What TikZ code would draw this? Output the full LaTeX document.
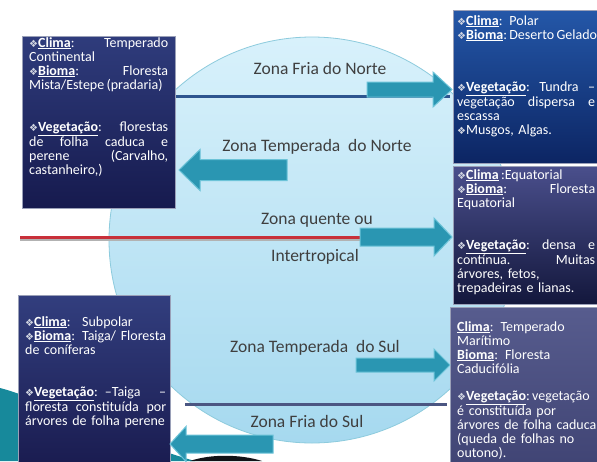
\documentclass[tikz,border=0pt]{standalone}
\usepackage{fontspec}
\setmainfont{Carlito}
\newfontfamily\dvfont{DejaVu Sans}
\usetikzlibrary{positioning}
\definecolor{tlTop}{HTML}{2F3C7C}
\definecolor{tlBot}{HTML}{161A4E}
\definecolor{trTop}{HTML}{2457A8}
\definecolor{trBot}{HTML}{0C2563}
\definecolor{mrTop}{HTML}{4A4F8C}
\definecolor{mrBot}{HTML}{13173C}
\definecolor{brTop}{HTML}{575C8E}
\definecolor{brBot}{HTML}{404474}
\definecolor{blTop}{HTML}{323E7E}
\definecolor{blBot}{HTML}{1A1C50}
\definecolor{globeTop}{HTML}{D8F1FB}
\definecolor{globeBot}{HTML}{A6D9EF}
\definecolor{globeEdge}{HTML}{8DCBDD}
\definecolor{arw}{HTML}{2A96B2}
\definecolor{arwedge}{HTML}{6CC3D8}
\definecolor{zonegrey}{HTML}{3F3F3F}
\definecolor{nblue}{HTML}{2D558F}
\definecolor{nred}{HTML}{C8303A}
\definecolor{sline}{HTML}{4B5682}
\definecolor{boxedge}{HTML}{9AA0B8}
\definecolor{swteal}{HTML}{17899B}
\definecolor{swdark}{HTML}{111318}
\definecolor{bulgrey}{HTML}{D0D4E0}
\newcommand\dia{{\dvfont\fontsize{10}{10}\selectfont\color{bulgrey}❖}}
\newcommand\und[1]{\underline{\textbf{#1}}}
% tail x, tip x, mid y, half shaft, half head, head start x
\newcommand\blockarrow[6]{\draw[blk] (#1,{#3-#4}) -- (#6,{#3-#4}) -- (#6,{#3-#5}) -- (#2,#3)
  -- (#6,{#3+#5}) -- (#6,{#3+#4}) -- (#1,{#3+#4}) -- cycle;}

\begin{document}
\begin{tikzpicture}[x=1pt,y=-1pt,
  zone/.style={text=zonegrey,font=\fontsize{17.5}{18}\selectfont,inner sep=0pt},
  infobox/.style={draw=boxedge,line width=.8pt,anchor=north west,inner sep=0pt},
  txt/.style={text=white,anchor=north west,inner sep=0pt,align=left,
              font=\fontsize{14}{14}\selectfont},
  blk/.style={fill=arw,draw=arwedge,line width=1pt},
  nline/.style={line width=3pt}]
\useasboundingbox (0,0) rectangle (597,461);
\clip (0,0) rectangle (597,461);
\fill[white] (0,0) rectangle (597,461);

% slide background swoosh
\fill[swteal] (0,388) .. controls (40,398) and (120,440) .. (195,461) -- (0,461) -- cycle;
\fill[swdark] (190,461) .. controls (210,454) and (240,454) .. (262,461) -- cycle;

\node[circle,minimum size=406pt,inner sep=0pt,top color=globeTop,bottom color=globeBot,
      draw=globeEdge,line width=.8pt] (globe) at (312,240) {};

% zone limits
\draw[nline,nblue] (175,96) -- (450,96);
\draw[nline,gray!60] (20,239) -- (450,239);
\draw[nline,nred] (20,237) -- (450,237);
\draw[nline,sline] (185,404) -- (447,404);

\node[zone] (fnorte) at (320,68) {Zona Fria do Norte};
\node[zone] (tnorte) at (317,147) {Zona Temperada\ \ do Norte};
\node[zone] (quente) at (317,220) {Zona quente ou};
\node[zone] (inter) at (315,257) {Intertropical};
\node[zone] (tsul) at (315,348) {Zona Temperada\ \ do Sul};
\node[zone] (fsul) at (307,421) {Zona Fria do Sul};

% info boxes
\node[infobox,top color=tlTop,bottom color=tlBot,minimum width=153pt,minimum height=172pt]
  (tlbox) at (22,36) {};
\node[txt,text width=139pt] (tltext) at ([xshift=7pt,yshift=-1pt]tlbox.north west) {%
\dia\und{Clima}:\hfill Temperado\\
Continental\\
\dia\und{Bioma}:\hfill Floresta\\
Mista/Estepe\,(pradaria)\\[28pt]
\dia\und{Vegetação}:\hfill florestas\\
de\hfill folha\hfill caduca\hfill e\\
perene\hfill (Carvalho,\\
castanheiro,)};

\node[infobox,top color=trTop,bottom color=trBot,minimum width=160pt,minimum height=153pt]
  (trbox) at (453,10) {};
\node[txt,text width=138pt] (trtext) at ([xshift=4pt,yshift=-5pt]trbox.north west) {%
\dia\und{Clima}: Polar\\
\mbox{\dia\und{Bioma}:\,Deserto\,Gelado}\\[38pt]
\dia\und{Vegetação}:\hfill Tundra\hfill --\\
vegetação\hfill dispersa\hfill e\\
escassa\\
\dia Musgos, Algas.};

\node[infobox,top color=mrTop,bottom color=mrBot,minimum width=160pt,minimum height=138pt]
  (mrbox) at (453,166) {};
\node[txt,text width=138pt] (mrtext) at ([xshift=4pt,yshift=-3pt]mrbox.north west) {%
\dia\und{Clima}\,:Equatorial\\
\dia\und{Bioma}:\hfill Floresta\\
Equatorial\\[28pt]
\dia\und{Vegetação}:\hfill densa\hfill e\\
contínua.\hfill Muitas\\
árvores, fetos,\\
trepadeiras e lianas.};

\node[infobox,top color=brTop,bottom color=brBot,minimum width=160pt,minimum height=160pt]
  (brbox) at (450,307) {};
\node[txt,text width=140pt] (brtext) at ([xshift=7pt,yshift=-14pt]brbox.north west) {%
\und{Clima}: Temperado\\
Marítimo\\
\und{Bioma}: Floresta\\
Caducifólia\\[13pt]
\mbox{\dia\und{Vegetação}:\,vegetação}\\
é constituída por\\
\mbox{árvores de folha caduca}\\
(queda de folhas no\\
outono).};

\node[infobox,top color=blTop,bottom color=blBot,minimum width=152pt,minimum height=170pt]
  (blbox) at (18,295) {};
\node[txt,text width=141pt] (bltext) at ([xshift=7pt,yshift=-21pt]blbox.north west) {%
\dia\und{Clima}: \ Subpolar\\
\mbox{\dia\und{Bioma}: Taiga/ Floresta}\\
de coníferas\\[28pt]
\dia\und{Vegetação}: --Taiga\hfill --\\
floresta\hfill constituída\hfill por\\
árvores de folha perene};

% block arrows
\blockarrow{367}{452}{89.5}{7.5}{17.5}{433}
\blockarrow{287}{179}{170}{10.5}{20.5}{200}
\blockarrow{360}{452}{237}{9}{19}{434}
\blockarrow{356}{450}{365}{7}{16}{434}
\blockarrow{273}{170}{444}{9}{17.5}{186}
\end{tikzpicture}
\end{document}
